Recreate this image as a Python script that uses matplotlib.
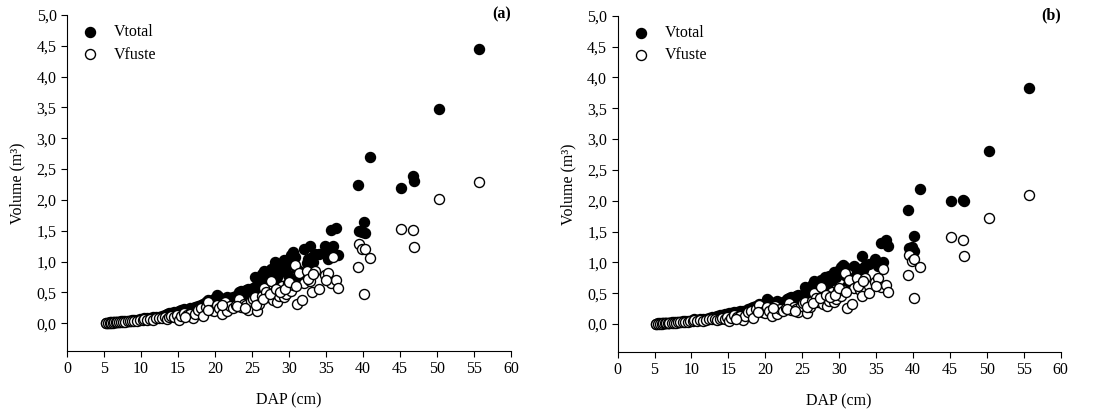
import numpy as np
import matplotlib
matplotlib.use("Agg")
import matplotlib.pyplot as plt
from matplotlib.ticker import FuncFormatter

plt.rcParams['font.family'] = ['Liberation Serif', 'DejaVu Serif']
plt.rcParams['font.size'] = 11.5

# DAP (cm) of each tree, same trees in both panels
dap = [5.2, 5.5, 5.8, 6.0, 6.2, 6.4, 6.6, 6.8, 7.0, 7.3, 7.6, 7.9, 8.2, 8.5, 8.8,
       9.1, 9.5, 9.8, 10.2, 10.4, 10.8, 11.2, 11.6, 12.0, 12.4, 12.8, 13.2, 13.5,
       13.8, 14.1, 14.5, 14.8, 15.1, 15.4, 15.8, 16.2, 16.6, 17.0, 17.3, 17.7,
       18.1, 18.4, 18.8, 19.1, 19.5, 19.9, 20.2, 20.5, 20.9, 21.3, 21.6, 22.0,
       22.4, 22.8, 23.2, 23.5, 23.9, 24.2, 24.5, 24.8, 25.1, 25.4, 25.7, 26.0,
       26.3, 26.6, 26.9, 27.2, 27.5, 27.8, 28.1, 28.4, 28.7, 29.0, 29.3, 29.6,
       29.9, 30.2, 30.5, 30.8, 31.1, 31.4, 31.7, 32.0, 32.4, 32.8, 33.1, 33.5,
       34.0, 34.8, 35.3, 35.7, 36.0, 36.3, 36.6, 39.3, 39.5, 39.9, 40.1, 40.2,
       40.9, 45.1, 46.8, 46.9, 50.3, 55.7,
       25.6, 26.5, 27.4, 28.2, 28.8, 29.5, 30.0, 31.0, 32.6, 33.3, 23.0, 24.0,
       21.0, 19.0, 16.0, 35.0]

# panel (a)
vtotal_a = [0.010, 0.012, 0.014, 0.016, 0.018, 0.020, 0.022, 0.025, 0.027, 0.030,
            0.033, 0.036, 0.040, 0.044, 0.048, 0.052, 0.058, 0.063, 0.070, 0.090,
            0.080, 0.090, 0.100, 0.100, 0.110, 0.120, 0.140, 0.150, 0.160, 0.170,
            0.180, 0.190, 0.200, 0.210, 0.230, 0.220, 0.240, 0.250, 0.260, 0.280,
            0.300, 0.320, 0.350, 0.380, 0.360, 0.390, 0.460, 0.420, 0.380, 0.400,
            0.430, 0.410, 0.420, 0.440, 0.500, 0.520, 0.480, 0.540, 0.560, 0.530,
            0.580, 0.750, 0.550, 0.720, 0.800, 0.850, 0.700, 0.780, 0.880, 0.820,
            1.000, 0.750, 0.950, 0.880, 1.020, 0.920, 0.780, 1.100, 1.150, 1.080,
            0.720, 0.850, 0.780, 1.200, 0.980, 1.250, 1.080, 1.120, 1.120, 1.250,
            1.050, 1.520, 1.250, 1.550, 1.100, 2.250, 1.500, 1.480, 1.650, 1.470,
            2.700, 2.200, 2.390, 2.300, 3.470, 4.450,
            0.600, 0.650, 0.720, 0.680, 0.850, 0.950, 0.980, 0.900, 1.050, 1.000,
            0.450, 0.500, 0.360, 0.320, 0.200, 1.150]
vfuste_a = [0.005, 0.008, 0.010, 0.011, 0.012, 0.014, 0.016, 0.018, 0.020, 0.022,
            0.024, 0.027, 0.030, 0.033, 0.036, 0.040, 0.044, 0.048, 0.055, 0.070,
            0.060, 0.070, 0.050, 0.080, 0.090, 0.080, 0.100, 0.070, 0.100, 0.120,
            0.100, 0.140, 0.060, 0.120, 0.170, 0.140, 0.150, 0.080, 0.150, 0.220,
            0.240, 0.120, 0.270, 0.350, 0.220, 0.200, 0.300, 0.250, 0.150, 0.350,
            0.200, 0.280, 0.250, 0.300, 0.400, 0.270, 0.320, 0.300, 0.220, 0.360,
            0.400, 0.420, 0.200, 0.320, 0.450, 0.580, 0.500, 0.420, 0.680, 0.380,
            0.520, 0.350, 0.440, 0.600, 0.420, 0.480, 0.660, 0.520, 0.620, 0.950,
            0.310, 0.820, 0.370, 0.650, 0.850, 0.680, 0.500, 0.850, 0.550, 0.780,
            0.820, 0.650, 1.080, 0.700, 0.580, 0.920, 1.280, 1.200, 0.480, 1.200,
            1.060, 1.530, 1.520, 1.230, 2.020, 2.290,
            0.300, 0.400, 0.480, 0.550, 0.500, 0.550, 0.670, 0.600, 0.720, 0.800,
            0.280, 0.250, 0.300, 0.220, 0.100, 0.700]

# panel (b)
vtotal_b = [0.010, 0.011, 0.013, 0.015, 0.016, 0.018, 0.020, 0.022, 0.024, 0.027,
            0.030, 0.033, 0.036, 0.040, 0.043, 0.047, 0.052, 0.056, 0.062, 0.080,
            0.070, 0.080, 0.090, 0.090, 0.100, 0.110, 0.120, 0.130, 0.140, 0.150,
            0.160, 0.170, 0.180, 0.180, 0.200, 0.190, 0.210, 0.220, 0.220, 0.240,
            0.260, 0.270, 0.300, 0.320, 0.310, 0.340, 0.400, 0.370, 0.330, 0.350,
            0.370, 0.350, 0.360, 0.380, 0.430, 0.440, 0.410, 0.450, 0.470, 0.450,
            0.480, 0.600, 0.450, 0.580, 0.640, 0.700, 0.580, 0.640, 0.720, 0.680,
            0.770, 0.620, 0.780, 0.720, 0.840, 0.760, 0.860, 0.920, 0.960, 0.920,
            0.620, 0.750, 0.680, 0.950, 0.850, 0.900, 1.100, 0.950, 0.980, 1.050,
            0.950, 1.320, 1.000, 1.370, 1.270, 1.850, 1.230, 1.250, 1.430, 1.190,
            2.190, 2.000, 2.020, 2.000, 2.810, 3.830,
            0.500, 0.550, 0.600, 0.580, 0.700, 0.800, 0.820, 0.780, 0.880, 0.880,
            0.400, 0.420, 0.310, 0.280, 0.180, 1.000]
vfuste_b = [0.005, 0.007, 0.009, 0.010, 0.011, 0.013, 0.015, 0.017, 0.018, 0.020,
            0.022, 0.025, 0.027, 0.030, 0.033, 0.036, 0.040, 0.043, 0.050, 0.065,
            0.055, 0.063, 0.045, 0.070, 0.080, 0.075, 0.090, 0.065, 0.090, 0.100,
            0.090, 0.120, 0.050, 0.100, 0.150, 0.120, 0.130, 0.070, 0.130, 0.200,
            0.210, 0.100, 0.240, 0.310, 0.200, 0.180, 0.270, 0.220, 0.130, 0.300,
            0.170, 0.240, 0.210, 0.260, 0.340, 0.230, 0.270, 0.250, 0.200, 0.300,
            0.340, 0.360, 0.180, 0.280, 0.380, 0.500, 0.420, 0.360, 0.600, 0.320,
            0.450, 0.300, 0.380, 0.520, 0.360, 0.400, 0.560, 0.450, 0.550, 0.830,
            0.260, 0.720, 0.330, 0.580, 0.750, 0.550, 0.450, 0.740, 0.500, 0.680,
            0.740, 0.600, 0.890, 0.640, 0.520, 0.800, 1.120, 1.020, 0.420, 1.060,
            0.930, 1.420, 1.370, 1.100, 1.720, 2.100,
            0.280, 0.350, 0.420, 0.480, 0.440, 0.480, 0.580, 0.520, 0.620, 0.700,
            0.250, 0.220, 0.260, 0.200, 0.090, 0.620]

panels = [("(a)", vtotal_a, vfuste_a), ("(b)", vtotal_b, vfuste_b)]

fig = plt.figure(figsize=(10.99, 4.13), dpi=100)
axes = [fig.add_axes([0.061, 0.150, 0.404, 0.814]),
        fig.add_axes([0.562, 0.148, 0.403, 0.814])]

comma = FuncFormatter(lambda v, p: ("%.1f" % v).replace(".", ","))

for ax, (tag, vt, vf) in zip(axes, panels):
    ax.scatter(dap, vt, s=52, c='black', edgecolors='black', linewidths=1.0,
               label='Vtotal', zorder=2)
    ax.scatter(dap, vf, s=52, c='white', edgecolors='black', linewidths=1.0,
               label='Vfuste', zorder=3)
    ax.set_xlim(0, 60)
    ax.set_ylim(-0.45, 5.0)
    ax.set_xticks(np.arange(0, 61, 5))
    ax.set_yticks(np.arange(0, 5.01, 0.5))
    ax.yaxis.set_major_formatter(comma)
    ax.spines['top'].set_visible(False)
    ax.spines['right'].set_visible(False)
    ax.tick_params(direction='out', length=4, width=0.8)
    ax.set_xlabel("DAP (cm)", labelpad=11)
    ax.set_ylabel("Volume (m³)", labelpad=8)
    ax.text(1.0, 1.0, tag, transform=ax.transAxes, ha='right', va='center',
            fontweight='bold')
    ax.legend(loc='upper left', bbox_to_anchor=(0.012, 1.0), frameon=False,
              handlelength=1.0, handletextpad=1.0, labelspacing=0.38,
              borderpad=0.3, borderaxespad=0.3)

plt.savefig('out.png', dpi=100)
